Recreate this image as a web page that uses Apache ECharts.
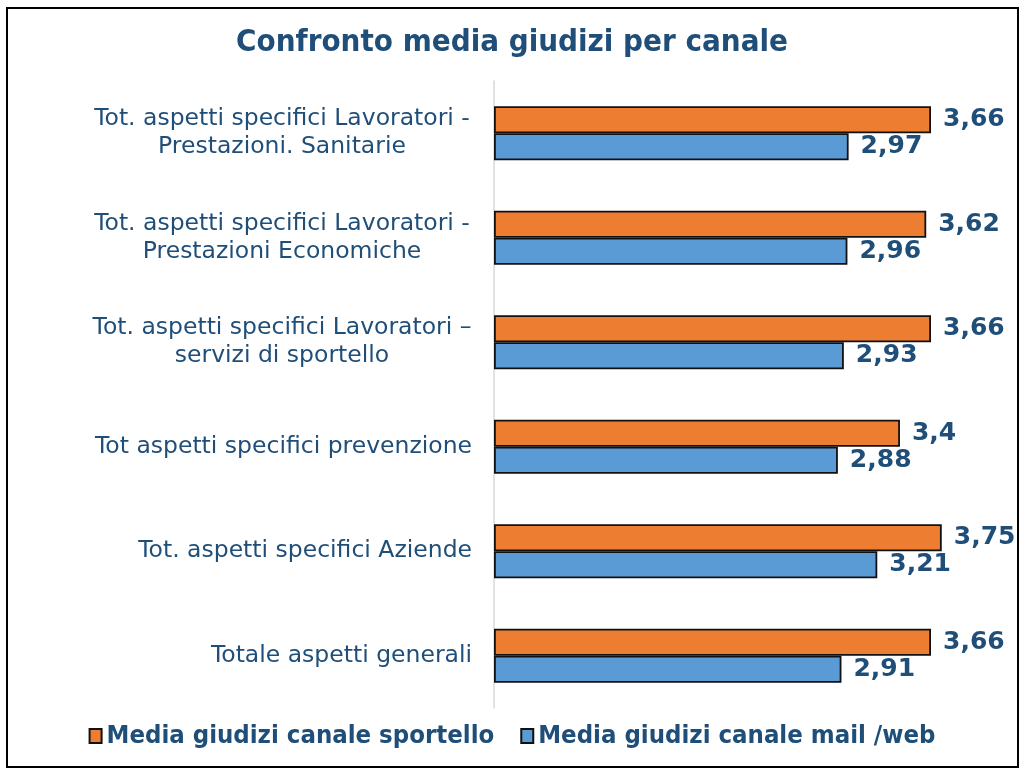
<!DOCTYPE html>
<html>
<head>
<meta charset="utf-8">
<script src="https://cdn.jsdelivr.net/npm/echarts@6/dist/echarts.min.js"></script>
<style>html,body{margin:0;padding:0;background:#fff}#c{width:1024px;height:775px}</style>
</head>
<body>
<div id="c"></div>
<script>
var categories = [
  "Tot. aspetti specifici Lavoratori -\nPrestazioni. Sanitarie",
  "Tot. aspetti specifici Lavoratori -\nPrestazioni Economiche",
  "Tot. aspetti specifici Lavoratori –\nservizi di sportello",
  "Tot aspetti specifici prevenzione",
  "Tot. aspetti specifici Aziende",
  "Totale aspetti generali"
];
var sportello = [3.66, 3.62, 3.66, 3.4, 3.75, 3.66];
var mailWeb = [2.97, 2.96, 2.93, 2.88, 3.21, 2.91];
var seriesNames = ["Media giudizi canale sportello", "Media giudizi canale mail /web"];

var labelFont = "23.5px 'DejaVu Sans', Verdana, sans-serif";
var cv = document.createElement('canvas').getContext('2d');
cv.font = labelFont;
var blockW = 0;
categories.forEach(function (c) {
  var lines = c.split('\n');
  if (lines.length > 1) lines.forEach(function (l) { blockW = Math.max(blockW, cv.measureText(l).width); });
});
blockW = Math.ceil(blockW) + 1;

var chart = echarts.init(document.getElementById('c'), null, {renderer: 'canvas'});
var valueLabel = {
  show: true, position: 'right', distance: 12,
  color: '#1F4E79', fontFamily: "'DejaVu Sans', Verdana, sans-serif",
  fontWeight: 'bold', fontSize: 25,
  formatter: function (p) { return String(p.value).replace('.', ','); }
};
chart.setOption({
  backgroundColor: '#fff',
  animation: false,
  title: {
    text: 'Confronto media giudizi per canale',
    left: 'center', top: 22,
    textStyle: {color: '#1F4E79', fontFamily: "'DejaVu Sans Condensed', 'DejaVu Sans', sans-serif", fontWeight: 'bold', fontSize: 31}
  },
  graphic: [{
    type: 'rect', silent: true, z: 100,
    shape: {x: 7, y: 8, width: 1011, height: 759},
    style: {fill: 'none', stroke: '#000', lineWidth: 2}
  }],
  legend: {
    bottom: 21, left: 'center', itemWidth: 12, itemHeight: 14, itemGap: 26,
    icon: 'rect',
    textStyle: {color: '#1F4E79', fontFamily: "'DejaVu Sans Condensed', 'DejaVu Sans', sans-serif", fontWeight: 'bold', fontSize: 25.5},
    data: seriesNames
  },
  grid: {left: 494, right: 52.4, top: 81, bottom: 67, containLabel: false},
  xAxis: {type: 'value', min: 0, max: 4, show: false},
  yAxis: {
    type: 'category', inverse: true, data: categories,
    axisLine: {show: true, lineStyle: {color: '#D9D9D9', width: 1.5}},
    axisTick: {show: false},
    axisLabel: {
      margin: 22, color: '#1F4E79', lineHeight: 28,
      formatter: function (v) {
        var lines = v.split('\n');
        if (lines.length === 1) return '{s|' + v + '}';
        return lines.map(function (l) { return '{m|' + l + '}'; }).join('\n');
      },
      rich: {
        s: {fontFamily: "'DejaVu Sans', Verdana, sans-serif", fontSize: 23.5, color: '#1F4E79', lineHeight: 28},
        m: {fontFamily: "'DejaVu Sans', Verdana, sans-serif", fontSize: 23.5, color: '#1F4E79', lineHeight: 28, width: blockW, align: 'center'}
      }
    }
  },
  series: [
    {name: seriesNames[0], type: 'bar', data: sportello, barWidth: 27, barGap: '0%',
     itemStyle: {color: '#ED7D31', borderColor: '#111', borderWidth: 1.8}, label: valueLabel},
    {name: seriesNames[1], type: 'bar', data: mailWeb, barWidth: 27, barGap: '0%',
     itemStyle: {color: '#5B9BD5', borderColor: '#111', borderWidth: 1.8}, label: valueLabel}
  ]
});
</script>
</body>
</html>
